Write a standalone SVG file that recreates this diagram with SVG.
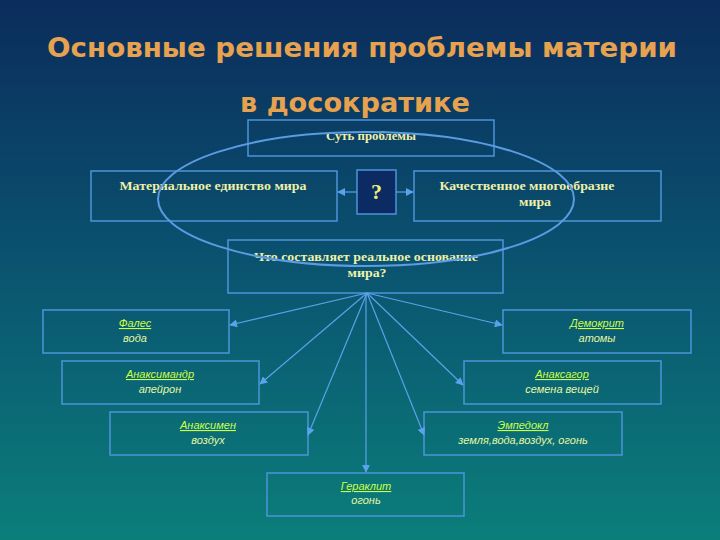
<svg xmlns="http://www.w3.org/2000/svg" width="720" height="540" viewBox="0 0 720 540">
<defs>
<linearGradient id="bg" x1="0" y1="0" x2="0" y2="1">
<stop offset="0" stop-color="#0b2c5c"/>
<stop offset="0.5" stop-color="#0a5470"/>
<stop offset="1" stop-color="#0b7e7a"/>
</linearGradient>
<marker id="ah" viewBox="0 0 10 10" refX="9" refY="5" markerWidth="8" markerHeight="8" orient="auto" markerUnits="userSpaceOnUse">
<path d="M0,0 L10,5 L0,10 z" fill="#5aa2ea"/>
</marker>
<style>
.box{fill:none;stroke:#4d94da;stroke-width:1.5}
.q{fill:#0b2b62;stroke:#4d94da;stroke-width:1.5}
.t{font-family:"Liberation Serif","DejaVu Serif",serif;font-size:12px;font-weight:bold;fill:#eef0a8;text-anchor:middle}
.n{font-family:"Liberation Sans",Arial,sans-serif;font-size:11px;font-style:italic;fill:#ccff44;text-anchor:middle;text-decoration:underline}
.s{font-family:"Liberation Sans",Arial,sans-serif;font-size:11px;font-style:italic;fill:#e6f7a0;text-anchor:middle}
.title{font-family:"DejaVu Sans","Liberation Sans",sans-serif;font-size:27px;font-weight:bold;fill:#e6a24e;text-anchor:middle}
.c{stroke:#5aa2ea;stroke-width:1.2;fill:none;marker-end:url(#ah)}
</style>
</defs>
<rect width="720" height="540" fill="url(#bg)"/>
<g id="title">
<text class="title" x="362" y="57" textLength="630" lengthAdjust="spacingAndGlyphs">Основные решения проблемы материи</text>
<text class="title" x="355" y="112" textLength="230" lengthAdjust="spacingAndGlyphs">в досократике</text>
</g>
<g id="n-sut">
<rect class="box" x="248" y="120" width="246" height="36"/>
<text class="t" x="371" y="140" textLength="90" lengthAdjust="spacingAndGlyphs">Суть проблемы</text>
</g>
<g id="n-left">
<rect class="box" x="91" y="171" width="246" height="50"/>
<text class="t" x="213" y="190" textLength="187" lengthAdjust="spacingAndGlyphs">Материальное единство мира</text>
</g>
<g id="n-q">
<rect class="q" x="357" y="170" width="39" height="44"/>
<text x="376.5" y="199" font-family="Liberation Serif,serif" font-size="22" font-weight="bold" fill="#e8f07a" text-anchor="middle">?</text>
</g>
<g id="n-right">
<rect class="box" x="414" y="171" width="247" height="50"/>
<text class="t" x="527" y="190" textLength="175" lengthAdjust="spacingAndGlyphs">Качественное многообразне</text>
<text class="t" x="535" y="206" textLength="32" lengthAdjust="spacingAndGlyphs">мира</text>
</g>
<g id="n-what">
<rect class="box" x="228" y="240" width="275" height="53"/>
<text class="t" x="366" y="261" textLength="224" lengthAdjust="spacingAndGlyphs">Что составляет реальное основание</text>
<text class="t" x="367" y="277" textLength="39" lengthAdjust="spacingAndGlyphs">мира?</text>
</g>
<g id="ellipse">
<ellipse cx="366" cy="199" rx="208" ry="67" fill="none" stroke="#5b9be2" stroke-width="2"/>
</g>
<g id="n-fales">
<rect class="box" x="43" y="310" width="186" height="43"/>
<text class="n" x="135" y="327">Фалес</text>
<text class="s" x="135" y="342">вода</text>
</g>
<g id="n-anaksimandr">
<rect class="box" x="62" y="361" width="197" height="43"/>
<text class="n" x="160" y="378">Анаксимандр</text>
<text class="s" x="160" y="393">апейрон</text>
</g>
<g id="n-anaksimen">
<rect class="box" x="110" y="412" width="198" height="43"/>
<text class="n" x="208" y="429">Анаксимен</text>
<text class="s" x="208" y="444">воздух</text>
</g>
<g id="n-demokrit">
<rect class="box" x="503" y="310" width="188" height="43"/>
<text class="n" x="597" y="327">Демокрит</text>
<text class="s" x="597" y="342">атомы</text>
</g>
<g id="n-anaksagor">
<rect class="box" x="464" y="361" width="197" height="43"/>
<text class="n" x="562" y="378">Анаксагор</text>
<text class="s" x="562" y="393">семена вещей</text>
</g>
<g id="n-empedokl">
<rect class="box" x="424" y="412" width="198" height="43"/>
<text class="n" x="523" y="429">Эмпедокл</text>
<text class="s" x="523" y="444">земля,вода,воздух, огонь</text>
</g>
<g id="n-geraklit">
<rect class="box" x="267" y="473" width="197" height="43"/>
<text class="n" x="366" y="490">Гераклит</text>
<text class="s" x="366" y="504">огонь</text>
</g>
<g id="connectors">
<line class="c" x1="357" y1="192" x2="338" y2="192"/>
<line class="c" x1="396" y1="192" x2="413" y2="192"/>
<line class="c" x1="367" y1="293" x2="230" y2="325"/>
<line class="c" x1="367" y1="293" x2="260" y2="384"/>
<line class="c" x1="367" y1="293" x2="308" y2="435"/>
<line class="c" x1="367" y1="293" x2="502" y2="325"/>
<line class="c" x1="367" y1="293" x2="463" y2="385"/>
<line class="c" x1="367" y1="293" x2="424" y2="435"/>
<line class="c" x1="366" y1="293" x2="366" y2="472"/>
</g>
</svg>
